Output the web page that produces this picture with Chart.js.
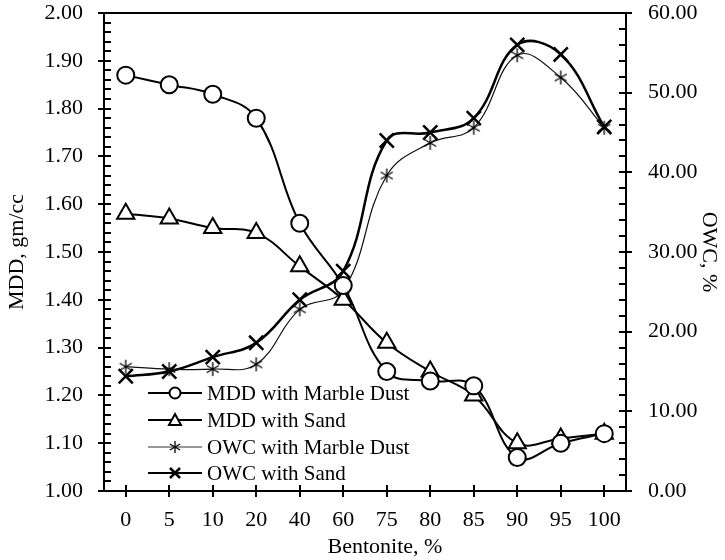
<!DOCTYPE html>
<html>
<head>
<meta charset="utf-8">
<script src="https://cdn.jsdelivr.net/npm/chart.js@4.4.1/dist/chart.umd.min.js"></script>
<style>
  html, body { margin: 0; padding: 0; background: #fff; }
  #wrap { width: 725px; height: 560px; }
</style>
</head>
<body>
<div id="wrap"><canvas id="chart" width="725" height="560"></canvas></div>
<script>
const bentonite = ['0', '5', '10', '20', '40', '60', '75', '80', '85', '90', '95', '100'];
const mddMarble = [1.87, 1.85, 1.83, 1.78, 1.56, 1.43, 1.25, 1.23, 1.22, 1.07, 1.10, 1.12];
const mddSand = [1.58, 1.57, 1.55, 1.54, 1.47, 1.40, 1.31, 1.25, 1.20, 1.10, 1.11, 1.12];
const owcMarble = [15.6, 15.3, 15.3, 15.9, 22.8, 25.2, 39.6, 43.7, 45.6, 54.7, 51.9, 45.6];
const owcSand = [14.4, 15.0, 16.8, 18.6, 24.0, 27.6, 44.0, 45.0, 46.8, 56.0, 54.8, 45.7];
const legendLabels = ['MDD with Marble Dust', 'MDD with Sand', 'OWC with Marble Dust', 'OWC with Sand'];

const FONT = 'Liberation Serif, Times New Roman, serif';

// six-ray asterisk marker
function asterisk(r, lw) {
  const c = document.createElement('canvas');
  const s = r * 2 + 2;
  c.width = s; c.height = s;
  const g = c.getContext('2d');
  g.strokeStyle = '#000';
  g.lineWidth = lw;
  g.beginPath();
  for (let i = 0; i < 3; i++) {
    const a = Math.PI / 2 + i * Math.PI / 3;
    g.moveTo(s / 2 + Math.cos(a) * r, s / 2 - Math.sin(a) * r);
    g.lineTo(s / 2 - Math.cos(a) * r, s / 2 + Math.sin(a) * r);
  }
  g.stroke();
  return c;
}
const starBig = asterisk(7, 1.3);

const ticksAndFrame = {
  id: 'ticksAndFrame',
  afterDraw(chart) {
    const ctx = chart.ctx;
    const a = chart.chartArea;
    const y = chart.scales.y, y1 = chart.scales.y1, x = chart.scales.x;
    ctx.save();
    ctx.strokeStyle = '#000';
    ctx.lineWidth = 2;
    ctx.beginPath();
    ctx.moveTo(a.left, a.top); ctx.lineTo(a.right, a.top);
    // left axis ticks
    for (let v = 1; v <= 2.0001; v += 0.02) {
      const p = Math.round(y.getPixelForValue(v));
      const major = Math.abs(v * 10 - Math.round(v * 10)) < 0.01;
      ctx.moveTo(a.left - (major ? 6 : 0), p);
      ctx.lineTo(a.left + 7, p);
    }
    // right axis ticks
    for (let v = 0; v <= 60.001; v += 2) {
      const p = Math.round(y1.getPixelForValue(v));
      const major = v % 10 === 0;
      ctx.moveTo(a.right + (major ? 6 : 0), p);
      ctx.lineTo(a.right - 7, p);
    }
    // x ticks
    bentonite.forEach((c, i) => {
      const p = Math.round(x.getPixelForValue(i));
      ctx.moveTo(p, a.bottom - 6);
      ctx.lineTo(p, a.bottom + 6);
    });
    ctx.stroke();

    // x axis title (sits a little right of centre in the original)
    ctx.font = '22px ' + FONT;
    ctx.fillStyle = '#000';
    ctx.textAlign = 'center';
    ctx.textBaseline = 'middle';
    ctx.fillText('Bentonite, %', 385, 547);
    ctx.textAlign = 'left';

    // legend
    const lx = 148, rows = [393, 420, 447, 473];
    ctx.font = '21px ' + FONT;
    rows.forEach((ry, i) => {
      ctx.lineWidth = i === 2 ? 1 : 2;
      ctx.strokeStyle = i === 2 ? '#333' : '#000';
      ctx.beginPath();
      ctx.moveTo(lx, ry); ctx.lineTo(lx + 54, ry);
      ctx.stroke();
      const mx = lx + 27;
      ctx.strokeStyle = '#000';
      ctx.beginPath();
      if (i === 0) {
        ctx.fillStyle = '#fff';
        ctx.arc(mx, ry, 5.5, 0, Math.PI * 2);
        ctx.fill(); ctx.stroke();
      } else if (i === 1) {
        ctx.fillStyle = '#fff';
        ctx.moveTo(mx, ry - 6); ctx.lineTo(mx + 6, ry + 5); ctx.lineTo(mx - 6, ry + 5); ctx.closePath();
        ctx.fill(); ctx.stroke();
      } else if (i === 2) {
        ctx.lineWidth = 1.3;
        for (let k = 0; k < 3; k++) {
          const ang = Math.PI / 2 + k * Math.PI / 3;
          ctx.moveTo(mx + Math.cos(ang) * 6, ry - Math.sin(ang) * 6);
          ctx.lineTo(mx - Math.cos(ang) * 6, ry + Math.sin(ang) * 6);
        }
        ctx.stroke();
      } else {
        ctx.lineWidth = 2.5;
        ctx.moveTo(mx - 5, ry - 5); ctx.lineTo(mx + 5, ry + 5);
        ctx.moveTo(mx + 5, ry - 5); ctx.lineTo(mx - 5, ry + 5);
        ctx.stroke();
      }
      ctx.fillStyle = '#000';
      ctx.fillText(legendLabels[i], lx + 59, ry + 1);
    });
    ctx.restore();
  }
};

function noPad(s) {
  s.paddingTop = 0; s.paddingBottom = 0; s.paddingLeft = 0; s.paddingRight = 0;
}

new Chart(document.getElementById('chart').getContext('2d'), {
  type: 'line',
  data: {
    labels: bentonite,
    datasets: [
      {
        label: legendLabels[0], data: mddMarble, yAxisID: 'y',
        borderColor: '#000', borderWidth: 2, tension: 0.4,
        pointStyle: 'circle', pointRadius: 8.5, pointBorderWidth: 2,
        pointBackgroundColor: '#fff', pointBorderColor: '#000'
      },
      {
        label: legendLabels[1], data: mddSand, yAxisID: 'y',
        borderColor: '#000', borderWidth: 2, tension: 0.4,
        pointStyle: 'triangle', pointRadius: 10, pointBorderWidth: 2,
        pointBackgroundColor: '#fff', pointBorderColor: '#000'
      },
      {
        label: legendLabels[2], data: owcMarble, yAxisID: 'y1',
        borderColor: '#111', borderWidth: 1.2, tension: 0.4,
        pointStyle: starBig, pointRadius: 7
      },
      {
        label: legendLabels[3], data: owcSand, yAxisID: 'y1',
        borderColor: '#000', borderWidth: 2.5, tension: 0.4,
        pointStyle: 'crossRot', pointRadius: 10, pointBorderWidth: 2.5,
        pointBorderColor: '#000'
      }
    ]
  },
  options: {
    responsive: false,
    animation: false,
    layout: { padding: { top: 13 } },
    plugins: {
      legend: { display: false },
      tooltip: { enabled: false }
    },
    scales: {
      x: {
        offset: true,
        grid: { display: false, drawTicks: false },
        border: { color: '#000', width: 2 },
        ticks: { color: '#000', font: { family: FONT, size: 22 }, padding: 16, maxRotation: 0 },
        title: { display: false, text: 'Bentonite, %' },
        afterFit(s) { s.height = 69; noPad(s); }
      },
      y: {
        position: 'left',
        min: 1.0, max: 2.0,
        grid: { display: false, drawTicks: false },
        border: { color: '#000', width: 2 },
        ticks: { stepSize: 0.1, color: '#000', font: { family: FONT, size: 22 }, padding: 21,
          callback: v => v.toFixed(2) },
        title: { display: true, text: 'MDD, gm/cc', color: '#000', font: { family: FONT, size: 22 }, padding: 4 },
        afterFit(s) { s.width = 104; noPad(s); }
      },
      y1: {
        position: 'right',
        min: 0, max: 60,
        grid: { display: false, drawTicks: false },
        border: { color: '#000', width: 2 },
        ticks: { stepSize: 10, color: '#000', font: { family: FONT, size: 22 }, padding: 22,
          callback: v => v.toFixed(2) },
        title: { display: true, text: 'OWC, %', color: '#000', font: { family: FONT, size: 22 }, padding: 3 },
        afterFit(s) { s.width = 99; noPad(s); }
      }
    }
  },
  plugins: [ticksAndFrame]
});
</script>
</body>
</html>
